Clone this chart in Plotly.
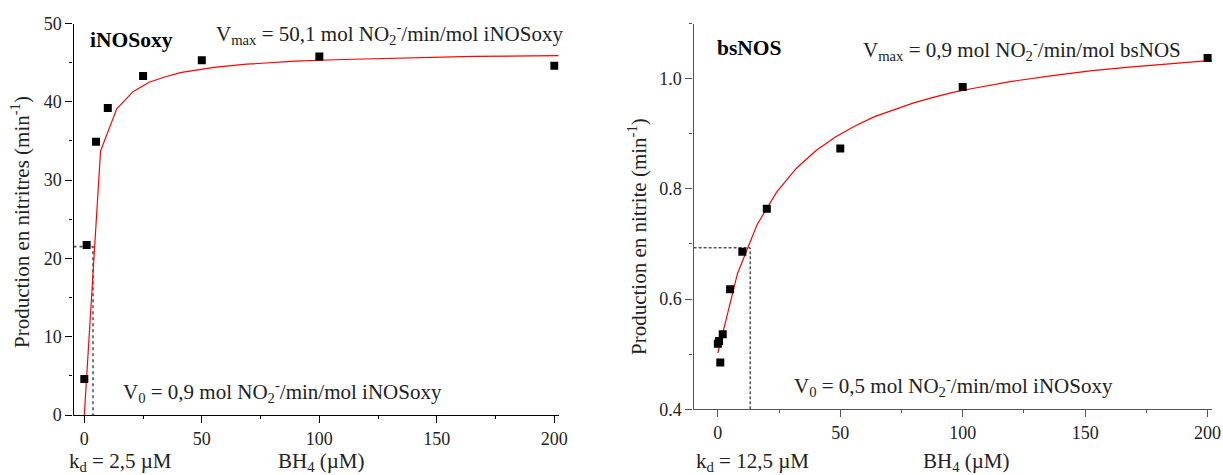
import plotly.graph_objects as go

W, H = 1223, 475
FONT = "Liberation Serif"

# ---- data: iNOSoxy (left) ----
inos_x = [0, 1, 5, 10, 25, 50, 100, 200]
inos_y = [4.6, 21.7, 34.9, 39.2, 43.3, 45.3, 45.8, 44.6]
inos_fit_x = [0, 6.9, 13.8, 20.7, 27.6, 34.5, 41.4, 55.2, 69, 89.7, 110.4, 138, 165.6, 201.8]
inos_fit_y = [0, 33.7, 39.1, 41.3, 42.5, 43.2, 43.75, 44.4, 44.8, 45.2, 45.4, 45.6, 45.8, 45.9]
inos_guide_x = [-4.6, 3.7, 3.7]
inos_guide_y = [21.5, 21.5, 0]

# ---- data: bsNOS (right) ----
bs_x = [0, 0.5, 1, 2, 5, 10, 20, 50, 100, 200]
bs_y = [0.519, 0.524, 0.485, 0.536, 0.618, 0.686, 0.764, 0.873, 0.985, 1.0375]
bs_fit_x = [0, 8, 16, 24, 32, 40, 48, 56, 64, 72, 80, 88, 96, 104, 120, 136, 152, 168, 184, 201.8]
bs_fit_y = [0.502, 0.646, 0.735, 0.794, 0.837, 0.869, 0.894, 0.914, 0.931, 0.944, 0.956,
            0.966, 0.975, 0.982, 0.995, 1.005, 1.014, 1.021, 1.027, 1.033]
bs_guide_x = [-9.9, 13.2, 13.2]
bs_guide_y = [0.693, 0.693, 0.4]

x_ticks = [0, 50, 100, 150, 200]
x_minor = [25, 75, 125, 175]
inos_yticks = [0, 10, 20, 30, 40, 50]
inos_yminor = [5, 15, 25, 35, 45]
bs_yticks = [0.4, 0.6, 0.8, 1.0]
bs_ytext = ["0.4", "0.6", "0.8", "1.0"]
bs_yminor = [0.5, 0.7, 0.9, 1.1]

def px(x):
    return x / W

def py(y):
    return 1 - y / H

fig = go.Figure()

# left
fig.add_trace(go.Scatter(x=inos_guide_x, y=inos_guide_y, mode="lines",
                         line=dict(color="#555555", width=1.6, dash="dot"),
                         xaxis="x", yaxis="y", showlegend=False))
fig.add_trace(go.Scatter(x=inos_fit_x, y=inos_fit_y, mode="lines",
                         line=dict(color="#ff0000", width=1.2),
                         xaxis="x", yaxis="y", showlegend=False))
fig.add_trace(go.Scatter(x=inos_x, y=inos_y, mode="markers",
                         marker=dict(symbol="square", size=8, color="black"),
                         xaxis="x", yaxis="y", showlegend=False))
# right
fig.add_trace(go.Scatter(x=bs_guide_x, y=bs_guide_y, mode="lines",
                         line=dict(color="black", width=1, dash="3px,2px"),
                         xaxis="x2", yaxis="y2", showlegend=False))
fig.add_trace(go.Scatter(x=bs_fit_x, y=bs_fit_y, mode="lines",
                         line=dict(color="#ff0000", width=1.2),
                         xaxis="x2", yaxis="y2", showlegend=False))
fig.add_trace(go.Scatter(x=bs_x, y=bs_y, mode="markers",
                         marker=dict(symbol="square", size=8, color="black"),
                         xaxis="x2", yaxis="y2", showlegend=False))

tickfont = dict(family=FONT, size=18, color="#222222")

def xax(domain, rng, anchor, lc):
    return dict(domain=domain, range=rng, anchor=anchor, showline=True, linecolor=lc,
                linewidth=1.3, ticks="outside", ticklen=7, tickwidth=1, tickcolor=lc,
                tickvals=x_ticks, showgrid=False, zeroline=False,
                ticklabeloverflow="allow",
                minor=dict(ticks="outside", ticklen=3, tickvals=x_minor, tickcolor=lc),
                tickfont=tickfont)

fig.update_layout(
    width=W, height=H, margin=dict(l=0, r=0, t=0, b=0, autoexpand=False),
    paper_bgcolor="white", plot_bgcolor="white",
    xaxis=xax([px(73.5), px(558.6)], [-4.6, 201.8], "y", "black"),
    yaxis=dict(domain=[py(415), py(23.5)], range=[0, 50], anchor="x", showline=True,
               linecolor="black", linewidth=1.3, ticks="outside", ticklen=7, tickcolor="black",
               tickvals=inos_yticks, showgrid=False, zeroline=False, ticklabeloverflow="allow",
               minor=dict(ticks="outside", ticklen=3, tickvals=inos_yminor, tickcolor="black"),
               tickfont=tickfont),
    xaxis2=xax([px(693.6), px(1212)], [-9.9, 201.8], "y2", "#555555"),
    yaxis2=dict(domain=[py(409.3), py(23.5)], range=[0.4, 1.1], anchor="x2", showline=True,
                linecolor="#555555", linewidth=1.3, ticks="outside", ticklen=7, tickcolor="#555555",
                tickvals=bs_yticks, ticktext=bs_ytext, ticklabeloverflow="allow",
                showgrid=False, zeroline=False,
                minor=dict(ticks="outside", ticklen=3, tickvals=bs_yminor, tickcolor="#555555"),
                tickfont=tickfont),
)

TF = dict(family=FONT, size=21, color="#222222")
BF = dict(family=FONT, size=21.5, color="black")

def ann(text, x, y, xanchor="left", font=TF, angle=0):
    fig.add_annotation(text=text, x=px(x), y=py(y), xref="paper", yref="paper",
                       xanchor=xanchor, yanchor="middle", showarrow=False, font=font,
                       textangle=angle)

# left annotations
ann("<b>iNOSoxy</b>", 88, 40, font=BF)
ann("V<sub>max</sub> = 50,1 mol NO<sub>2</sub><sup>-</sup>/min/mol iNOSoxy", 214, 33)
ann("V<sub>0</sub> = 0,9 mol NO<sub>2</sub><sup>-</sup>/min/mol iNOSoxy", 121, 391)
ann("k<sub>d</sub> = 2,5 µM", 67, 462)
ann("BH<sub>4</sub> (µM)", 276, 462)
ann("Production en nitritres (min<sup>-1</sup>)", 20, 222, xanchor="center", angle=-90)

# right annotations
ann("<b>bsNOS</b>", 715, 48, font=BF)
ann("V<sub>max</sub> = 0,9 mol NO<sub>2</sub><sup>-</sup>/min/mol bsNOS", 861, 49)
ann("V<sub>0</sub> = 0,5 mol NO<sub>2</sub><sup>-</sup>/min/mol iNOSoxy", 792, 385)
ann("k<sub>d</sub> = 12,5 µM", 694, 462)
ann("BH<sub>4</sub> (µM)", 921, 462)
ann("Production en nitrite (min<sup>-1</sup>)", 638, 237, xanchor="center", angle=-90)

fig.write_html("out.html")
